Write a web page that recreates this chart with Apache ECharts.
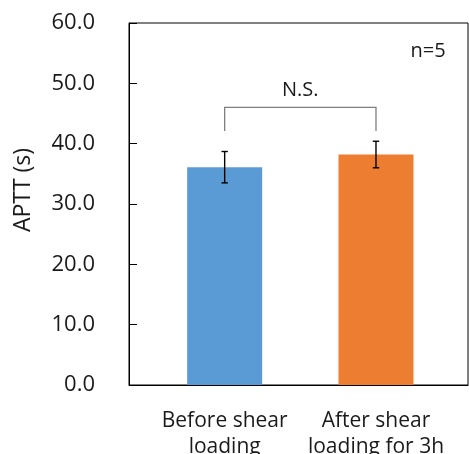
<!DOCTYPE html>
<html>
<head>
<meta charset="utf-8">
<script src="https://cdn.jsdelivr.net/npm/echarts@6/dist/echarts.min.js"></script>
<style>html,body{margin:0;padding:0;background:#fff}#c{width:469px;height:454px}</style>
</head>
<body>
<div id="c"></div>
<script>
const categories = ['Before shear\nloading', 'After shear\nloading for 3h'];
const means = [36.1, 38.2];
const errors = [2.6, 2.2];
const barColors = ['#5B9BD5', '#ED7D31'];
const yMin = 0, yMax = 60, yInterval = 10;
const yAxisName = 'APTT (s)';
const bracketTop = 46;
const bracketEnds = [42.1, 42.1];
const sigLabel = 'N.S.';
const nLabel = 'n=5';

const FONT = 'Open Sans';
const TXT = '#1a1a1a';

const chart = echarts.init(document.getElementById('c'), null, {renderer: 'canvas'});
chart.setOption({
  animation: false,
  backgroundColor: '#fff',
  textStyle: {fontFamily: FONT},
  grid: [
    {left: 129, top: 23, right: 1, bottom: 69, show: true, borderColor: '#000', borderWidth: 1, backgroundColor: 'transparent', containLabel: false, outerBoundsMode: 'none'},
    {left: 149, top: 23, right: 17.35, bottom: 69, containLabel: false, outerBoundsMode: 'none'}
  ],
  xAxis: [
    {gridIndex: 0, type: 'value', min: 0, max: 1, axisLine: {show: true, lineStyle: {color: '#000', width: 1}}, axisTick: {show: false}, axisLabel: {show: false}, splitLine: {show: false}},
    {gridIndex: 1, type: 'category', data: categories, axisLine: {show: false}, axisTick: {show: false},
     axisLabel: {margin: 23, fontSize: 21, lineHeight: 26, color: TXT, fontFamily: FONT, interval: 0}}
  ],
  yAxis: [
    {gridIndex: 0, type: 'value', min: yMin, max: yMax, interval: yInterval,
     name: yAxisName, nameLocation: 'middle', nameGap: 94, nameRotate: 90,
     nameTextStyle: {fontSize: 23, color: TXT, fontFamily: FONT, padding: [0, 0, 0, 28]},
     axisLine: {show: true, lineStyle: {color: '#000', width: 1}},
     axisTick: {show: true, inside: true, length: 8, lineStyle: {color: '#000'}},
     axisLabel: {margin: 34, fontSize: 22, color: TXT, fontFamily: FONT, formatter: v => v.toFixed(1)},
     splitLine: {show: false}},
    {gridIndex: 1, type: 'value', min: yMin, max: yMax, interval: yInterval, show: false, splitLine: {show: false}}
  ],
  series: [
    {type: 'bar', xAxisIndex: 1, yAxisIndex: 1, barWidth: 75,
     data: means.map((v, i) => ({value: v, itemStyle: {color: barColors[i]}}))},
    {type: 'custom', xAxisIndex: 1, yAxisIndex: 1, z: 5,
     data: means.map((m, i) => [i, m - errors[i], m + errors[i]]),
     renderItem: (params, api) => {
       const lo = api.coord([api.value(0), api.value(1)]);
       const hi = api.coord([api.value(0), api.value(2)]);
       const w = 3.2;
       const st = {stroke: '#000', lineWidth: 1.4};
       return {type: 'group', children: [
         {type: 'line', shape: {x1: lo[0], y1: lo[1], x2: hi[0], y2: hi[1]}, style: st},
         {type: 'line', shape: {x1: lo[0] - w, y1: lo[1], x2: lo[0] + w, y2: lo[1]}, style: st},
         {type: 'line', shape: {x1: hi[0] - w, y1: hi[1], x2: hi[0] + w, y2: hi[1]}, style: st}
       ]};
     }},
    {type: 'custom', xAxisIndex: 1, yAxisIndex: 1, z: 5,
     data: [[0, 1, bracketTop, bracketEnds[0], bracketEnds[1]]],
     renderItem: (params, api) => {
       const a = api.coord([api.value(0), api.value(3)]);
       const b = api.coord([api.value(0), api.value(2)]);
       const c = api.coord([api.value(1), api.value(2)]);
       const d = api.coord([api.value(1), api.value(4)]);
       return {type: 'group', children: [
         {type: 'polyline', shape: {points: [a, b, c, d]}, style: {stroke: '#7F7F7F', lineWidth: 1.3, fill: null}},
         {type: 'text', x: (b[0] + c[0]) / 2, y: b[1] - 7,
          style: {text: sigLabel, align: 'center', verticalAlign: 'bottom', fontSize: 20, fontFamily: FONT, fill: TXT}}
       ]};
     }}
  ],
  graphic: [
    {type: 'text', x: 428, y: 51, style: {text: nLabel, align: 'center', verticalAlign: 'middle', fontSize: 20, fontFamily: FONT, fill: TXT}}
  ]
});
</script>
</body>
</html>
